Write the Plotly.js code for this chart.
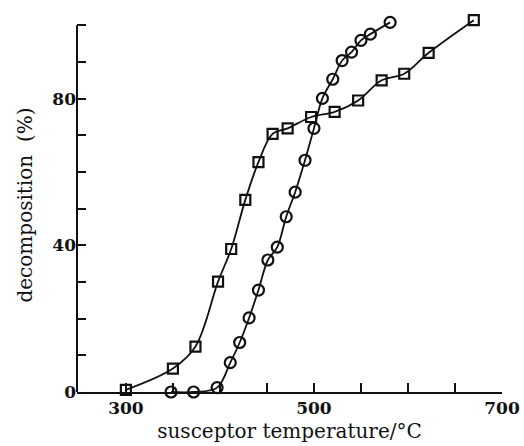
<!DOCTYPE html>
<html>
<head>
<meta charset="utf-8">
<script src="https://cdn.plot.ly/plotly-3.0.1.min.js"></script>
<style>
  html, body { margin: 0; padding: 0; background: #fff; }
  #chart { width: 524px; height: 446px; }
</style>
</head>
<body>
<div id="chart"></div>
<script>
// Decomposition versus susceptor temperature, two sample series.
const squareTemp = [300, 350, 374, 398, 412, 427, 441, 456, 472, 497, 522, 547, 572, 596, 622, 670];
const squareDecomp = [0.6, 6.4, 12.4, 30.1, 39, 52.4, 62.7, 70.4, 71.9, 75, 76.4, 79.5, 85, 86.8, 92.5, 101.4];

const circleTemp = [348, 372, 397, 411, 421, 431, 441, 451, 461, 470.5, 480, 490.5, 500, 509, 520, 530, 540, 550, 560, 581];
const circleDecomp = [0, 0, 1.2, 8, 13.5, 20.2, 27.8, 36, 39.5, 47.8, 54.5, 63.2, 71.9, 80.1, 85.3, 90.4, 92.7, 95.9, 97.6, 100.8];

const xTickVals = [300, 350, 400, 450, 500, 550, 600, 650, 700];
const xTickText = ['300', '', '', '', '500', '', '', '', '700'];
const yTickVals = [0, 10, 20, 30, 40, 50, 60, 70, 80, 90, 100];
const yTickText = ['0', '', '', '', '40', '', '', '', '80', '', ''];

const ink = '#111';
const serif = 'DejaVu Serif, serif';

function series(x, y, symbol, size) {
  return {
    x: x, y: y,
    type: 'scatter',
    mode: 'lines+markers',
    cliponaxis: false,
    line: { color: ink, width: 1.8, shape: 'spline', smoothing: 1 },
    marker: { symbol: symbol, size: size, color: ink, line: { color: ink, width: 2.2 } },
    hoverinfo: 'skip'
  };
}

const data = [
  series(squareTemp, squareDecomp, 'square-open', 10),
  series(circleTemp, circleDecomp, 'circle-open', 11)
];

const layout = {
  width: 524, height: 446,
  margin: { l: 77, r: 22, t: 18, b: 54 },
  paper_bgcolor: '#fff', plot_bgcolor: '#fff',
  showlegend: false,
  xaxis: {
    range: [248, 700],
    showgrid: false, zeroline: false,
    showline: true, linecolor: ink, linewidth: 2,
    ticks: 'inside', ticklen: 9, tickwidth: 1.8, tickcolor: ink,
    tickvals: xTickVals, ticktext: xTickText,
    tickfont: { family: serif, size: 17, color: ink, weight: 'bold' },
    title: { text: 'susceptor temperature/°C', font: { family: serif, size: 20, color: ink }, standoff: 7 }
  },
  yaxis: {
    range: [0, 102],
    showgrid: false, zeroline: false,
    showline: false,
    ticks: 'inside', ticklen: 9, tickwidth: 1.8, tickcolor: ink,
    tickvals: yTickVals, ticktext: yTickText,
    tickfont: { family: serif, size: 17, color: ink, weight: 'bold' },
    title: { text: 'decomposition  (%)', font: { family: serif, size: 20, color: ink }, standoff: 14 }
  },
  shapes: [
    { type: 'line', xref: 'paper', yref: 'y', x0: 0, x1: 0, y0: 0, y1: 100,
      line: { color: ink, width: 2 } }
  ]
};

Plotly.newPlot('chart', data, layout, { displayModeBar: false, staticPlot: true });
</script>
</body>
</html>
